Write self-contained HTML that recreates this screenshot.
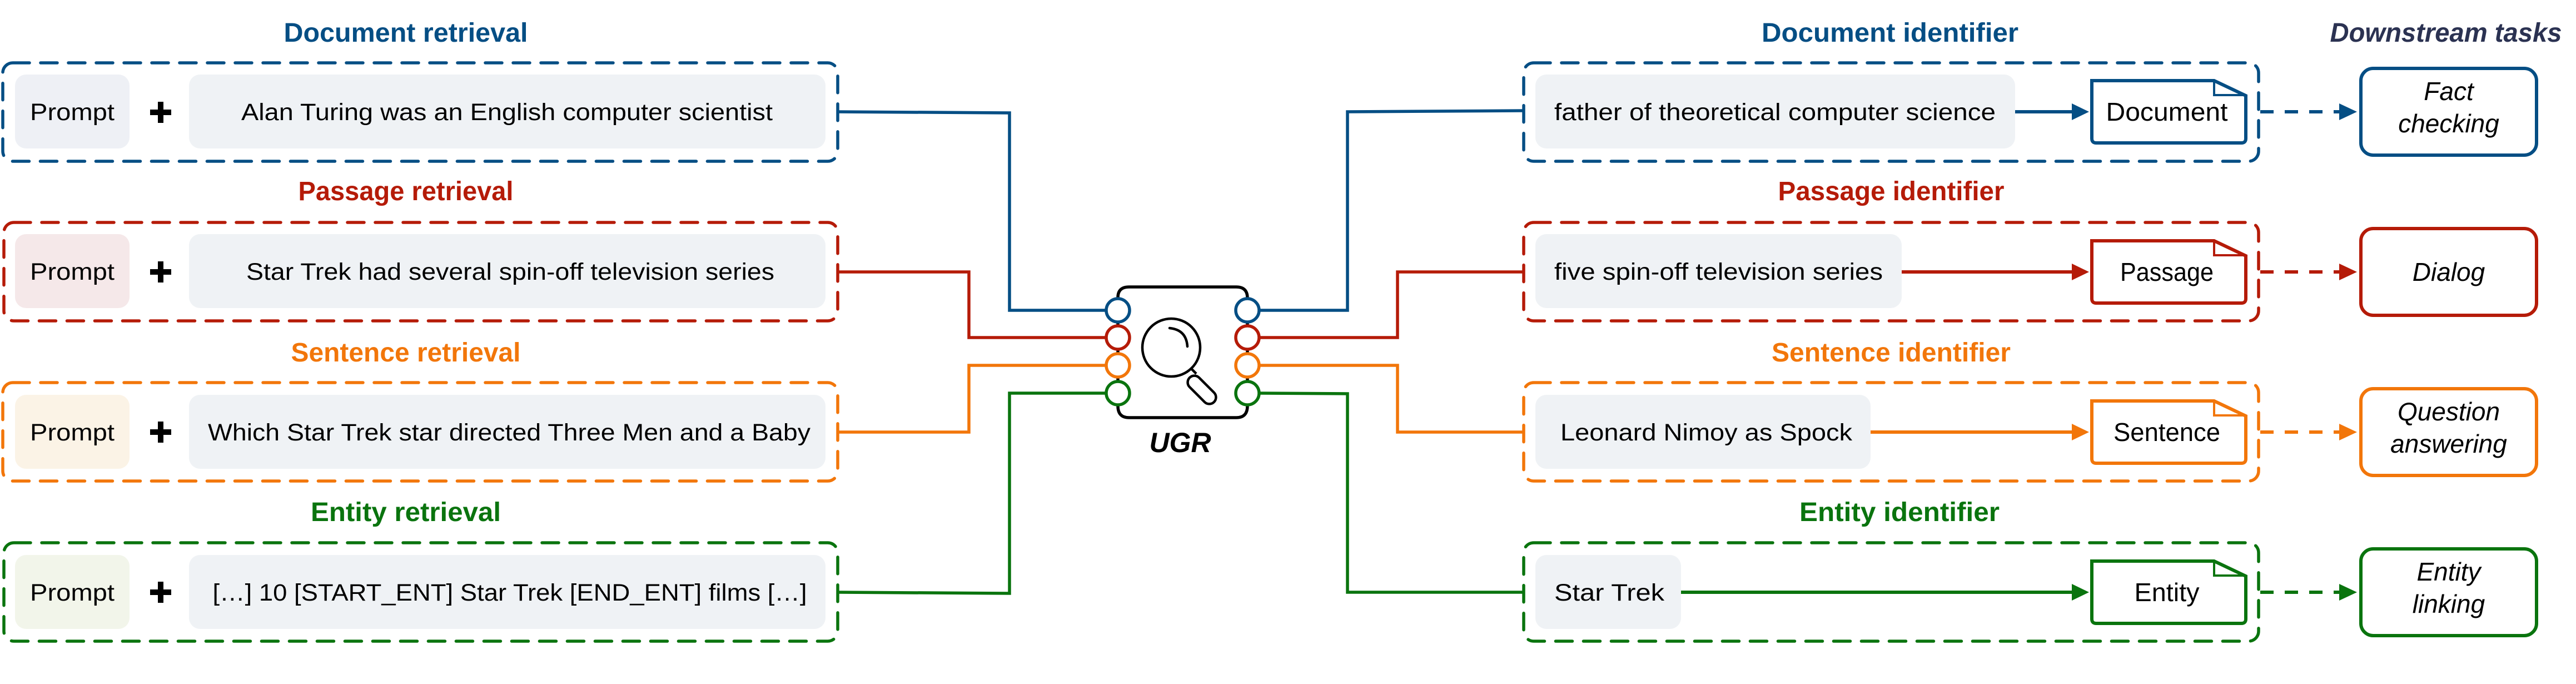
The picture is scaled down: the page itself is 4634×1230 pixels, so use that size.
<!DOCTYPE html>
<html><head><meta charset="utf-8"><style>
html,body{margin:0;padding:0;background:#fff;}
svg{display:block;}
text{font-family:"Liberation Sans",sans-serif;}
</style></head><body>
<svg width="4634" height="1230" viewBox="0 0 4634 1230" xmlns="http://www.w3.org/2000/svg">
<g font-size="48" font-weight="bold" text-anchor="middle">
<text x="730" y="75" fill="#054e84" textLength="439" lengthAdjust="spacingAndGlyphs">Document retrieval</text>
<text x="730" y="360" fill="#b51b08" textLength="387" lengthAdjust="spacingAndGlyphs">Passage retrieval</text>
<text x="730" y="650" fill="#f2760a" textLength="413" lengthAdjust="spacingAndGlyphs">Sentence retrieval</text>
<text x="730" y="937" fill="#0a740e" textLength="342" lengthAdjust="spacingAndGlyphs">Entity retrieval</text>
<text x="3400" y="75" fill="#054e84" textLength="462" lengthAdjust="spacingAndGlyphs">Document identifier</text>
<text x="3402" y="360" fill="#b51b08" textLength="407" lengthAdjust="spacingAndGlyphs">Passage identifier</text>
<text x="3402" y="650" fill="#f2760a" textLength="430" lengthAdjust="spacingAndGlyphs">Sentence identifier</text>
<text x="3417" y="937" fill="#0a740e" textLength="360" lengthAdjust="spacingAndGlyphs">Entity identifier</text>
<text x="4400" y="75" fill="#2b3252" font-style="italic" textLength="417" lengthAdjust="spacingAndGlyphs">Downstream tasks</text>
</g>

<g stroke-width="5.5" fill="none" stroke-dasharray="30 20" stroke-linecap="round">
<rect x="5" y="113" width="1502" height="177" rx="18" stroke="#054e84"/>
<rect x="7" y="400" width="1500" height="177" rx="18" stroke="#b51b08"/>
<rect x="5" y="688" width="1502" height="177" rx="18" stroke="#f2760a"/>
<rect x="7" y="976" width="1500" height="177" rx="18" stroke="#0a740e"/>
<rect x="2741" y="113" width="1322" height="177" rx="18" stroke="#054e84"/>
<rect x="2741" y="400" width="1322" height="177" rx="18" stroke="#b51b08"/>
<rect x="2741" y="688" width="1322" height="177" rx="18" stroke="#f2760a"/>
<rect x="2741" y="976" width="1322" height="177" rx="18" stroke="#0a740e"/>
</g>
<g>
<rect x="27" y="134" width="206" height="133" rx="20" fill="#eef0f5"/>
<rect x="27" y="421" width="206" height="133" rx="20" fill="#f5e8e9"/>
<rect x="27" y="710" width="206" height="133" rx="20" fill="#fbf3e6"/>
<rect x="27" y="998" width="206" height="133" rx="20" fill="#f2f5ea"/>
<rect x="340" y="134" width="1145" height="133" rx="20" fill="#eff2f5"/>
<rect x="340" y="421" width="1145" height="133" rx="20" fill="#eff2f5"/>
<rect x="340" y="710" width="1145" height="133" rx="20" fill="#eff2f5"/>
<rect x="340" y="998" width="1145" height="133" rx="20" fill="#eff2f5"/>
<rect x="2762" y="134" width="863" height="133" rx="20" fill="#eff2f5"/>
<rect x="2762" y="421" width="659" height="133" rx="20" fill="#eff2f5"/>
<rect x="2762" y="710" width="603" height="133" rx="20" fill="#eff2f5"/>
<rect x="2762" y="998" width="262" height="133" rx="20" fill="#eff2f5"/>
</g>
<g font-size="43" fill="#000" text-anchor="middle">
<text x="130" y="216" textLength="152" lengthAdjust="spacingAndGlyphs">Prompt</text>
<text x="130" y="503" textLength="152" lengthAdjust="spacingAndGlyphs">Prompt</text>
<text x="130" y="792" textLength="152" lengthAdjust="spacingAndGlyphs">Prompt</text>
<text x="130" y="1080" textLength="152" lengthAdjust="spacingAndGlyphs">Prompt</text>
<text x="912" y="216" textLength="956" lengthAdjust="spacingAndGlyphs">Alan Turing was an English computer scientist</text>
<text x="918" y="503" textLength="950" lengthAdjust="spacingAndGlyphs">Star Trek had several spin-off television series</text>
<text x="916" y="792" textLength="1084" lengthAdjust="spacingAndGlyphs">Which Star Trek star directed Three Men and a Baby</text>
<text x="917" y="1080" textLength="1069" lengthAdjust="spacingAndGlyphs">[…] 10 [START_ENT] Star Trek [END_ENT] films […]</text>
</g>
<g font-size="43" fill="#000">
<text x="2796" y="216" textLength="794" lengthAdjust="spacingAndGlyphs">father of theoretical computer science</text>
<text x="2796" y="503" textLength="591" lengthAdjust="spacingAndGlyphs">five spin-off television series</text>
<text x="2807" y="792" textLength="525" lengthAdjust="spacingAndGlyphs">Leonard Nimoy as Spock</text>
<text x="2796" y="1080" textLength="198" lengthAdjust="spacingAndGlyphs">Star Trek</text>
</g>
<g fill="#000">
<rect x="270" y="197" width="38" height="10"/><rect x="284" y="183" width="10" height="38"/>
<rect x="270" y="484" width="38" height="10"/><rect x="284" y="470" width="10" height="38"/>
<rect x="270" y="772" width="38" height="10"/><rect x="284" y="758" width="10" height="38"/>
<rect x="270" y="1060" width="38" height="10"/><rect x="284" y="1046" width="10" height="38"/>
</g>

<g fill="none" stroke-width="5.5">
<polyline points="1507,201 1816,203 1816,558 1990,558" stroke="#054e84"/>
<polyline points="1507,489 1743,489 1743,607 1990,607" stroke="#b51b08"/>
<polyline points="1507,777 1743,777 1743,657 1990,657" stroke="#f2760a"/>
<polyline points="1507,1065 1816,1067 1816,707 1990,707" stroke="#0a740e"/>
<polyline points="2265,558 2424,558 2424,201 2741,199" stroke="#054e84"/>
<polyline points="2265,607 2514,607 2514,489 2741,489" stroke="#b51b08"/>
<polyline points="2265,657 2514,657 2514,777 2741,777" stroke="#f2760a"/>
<polyline points="2265,707 2424,708 2424,1065 2741,1065" stroke="#0a740e"/>
</g>

<g fill="none" stroke="#000" stroke-width="5.5">
<path d="M2011,536 L2011,535 Q2011,516 2031,516 L2224,516 Q2244,516 2244,536 M2011,730 Q2011,751 2031,751 L2224,751 Q2244,751 2244,730"/>
<line x1="2011" y1="580" x2="2011" y2="585"/><line x1="2011" y1="629" x2="2011" y2="635"/><line x1="2011" y1="679" x2="2011" y2="685"/>
<line x1="2244" y1="580" x2="2244" y2="585"/><line x1="2244" y1="629" x2="2244" y2="635"/><line x1="2244" y1="679" x2="2244" y2="685"/>
<circle cx="2107" cy="625" r="52" stroke-width="4.5"/>
<path d="M2104,590 Q2134,593 2136,623" stroke-width="4.5" stroke-linecap="round"/>
<line x1="2144" y1="664" x2="2152" y2="672" stroke-width="4.5"/>
<rect x="2150" y="670" width="24" height="62" rx="12" transform="rotate(-45 2162 701)" stroke-width="4.5"/>
</g>
<g fill="#fff" stroke-width="5.5">
<circle cx="2011" cy="558" r="21" stroke="#054e84"/>
<circle cx="2011" cy="607" r="21" stroke="#b51b08"/>
<circle cx="2011" cy="657" r="21" stroke="#f2760a"/>
<circle cx="2011" cy="707" r="21" stroke="#0a740e"/>
<circle cx="2244" cy="558" r="21" stroke="#054e84"/>
<circle cx="2244" cy="607" r="21" stroke="#b51b08"/>
<circle cx="2244" cy="657" r="21" stroke="#f2760a"/>
<circle cx="2244" cy="707" r="21" stroke="#0a740e"/>
</g>
<text x="2123" y="813" font-size="50" font-weight="bold" font-style="italic" text-anchor="middle" fill="#000">UGR</text>

<g stroke-width="6">
<g stroke="#054e84" fill="#054e84">
<line x1="3625" y1="201" x2="3730" y2="201"/><path d="M3727,186 L3758,201 L3727,216Z" stroke="none"/>
<line x1="4066" y1="201" x2="4210" y2="201" stroke-dasharray="24 20"/><path d="M4208,186 L4240,201 L4208,216Z" stroke="none"/>
<path d="M3763,145 L3983,145 L4040,172 L4040,249 Q4040,257 4032,257 L3771,257 Q3763,257 3763,249 Z" fill="#fff"/>
<path d="M3983,145 L3983,171 L4040,171" fill="none" stroke-width="4"/>
<rect x="4247" y="123" width="316" height="156" rx="22" fill="#fff"/>
</g>
<g stroke="#b51b08" fill="#b51b08">
<line x1="3421" y1="489" x2="3730" y2="489"/><path d="M3727,474 L3758,489 L3727,504Z" stroke="none"/>
<line x1="4066" y1="489" x2="4210" y2="489" stroke-dasharray="24 20"/><path d="M4208,474 L4240,489 L4208,504Z" stroke="none"/>
<path d="M3763,433 L3983,433 L4040,460 L4040,537 Q4040,545 4032,545 L3771,545 Q3763,545 3763,537 Z" fill="#fff"/>
<path d="M3983,433 L3983,459 L4040,459" fill="none" stroke-width="4"/>
<rect x="4247" y="411" width="316" height="156" rx="22" fill="#fff"/>
</g>
<g stroke="#f2760a" fill="#f2760a">
<line x1="3365" y1="777" x2="3730" y2="777"/><path d="M3727,762 L3758,777 L3727,792Z" stroke="none"/>
<line x1="4066" y1="777" x2="4210" y2="777" stroke-dasharray="24 20"/><path d="M4208,762 L4240,777 L4208,792Z" stroke="none"/>
<path d="M3763,721 L3983,721 L4040,748 L4040,825 Q4040,833 4032,833 L3771,833 Q3763,833 3763,825 Z" fill="#fff"/>
<path d="M3983,721 L3983,747 L4040,747" fill="none" stroke-width="4"/>
<rect x="4247" y="699" width="316" height="156" rx="22" fill="#fff"/>
</g>
<g stroke="#0a740e" fill="#0a740e">
<line x1="3024" y1="1065" x2="3730" y2="1065"/><path d="M3727,1050 L3758,1065 L3727,1080Z" stroke="none"/>
<line x1="4066" y1="1065" x2="4210" y2="1065" stroke-dasharray="24 20"/><path d="M4208,1050 L4240,1065 L4208,1080Z" stroke="none"/>
<path d="M3763,1009 L3983,1009 L4040,1036 L4040,1113 Q4040,1121 4032,1121 L3771,1121 Q3763,1121 3763,1113 Z" fill="#fff"/>
<path d="M3983,1009 L3983,1035 L4040,1035" fill="none" stroke-width="4"/>
<rect x="4247" y="987" width="316" height="156" rx="22" fill="#fff"/>
</g>
</g>
<g font-size="46" fill="#000" text-anchor="middle">
<text x="3898" y="217" textLength="219" lengthAdjust="spacingAndGlyphs">Document</text>
<text x="3898" y="505" textLength="168" lengthAdjust="spacingAndGlyphs">Passage</text>
<text x="3898" y="793" textLength="192" lengthAdjust="spacingAndGlyphs">Sentence</text>
<text x="3898" y="1081" textLength="117" lengthAdjust="spacingAndGlyphs">Entity</text>
</g>
<g font-size="46" fill="#000" text-anchor="middle" font-style="italic">
<text x="4405" y="180">Fact</text>
<text x="4405" y="238">checking</text>
<text x="4405" y="505">Dialog</text>
<text x="4405" y="756">Question</text>
<text x="4405" y="814">answering</text>
<text x="4405" y="1044">Entity</text>
<text x="4405" y="1102">linking</text>
</g>
</svg>
</body></html>
